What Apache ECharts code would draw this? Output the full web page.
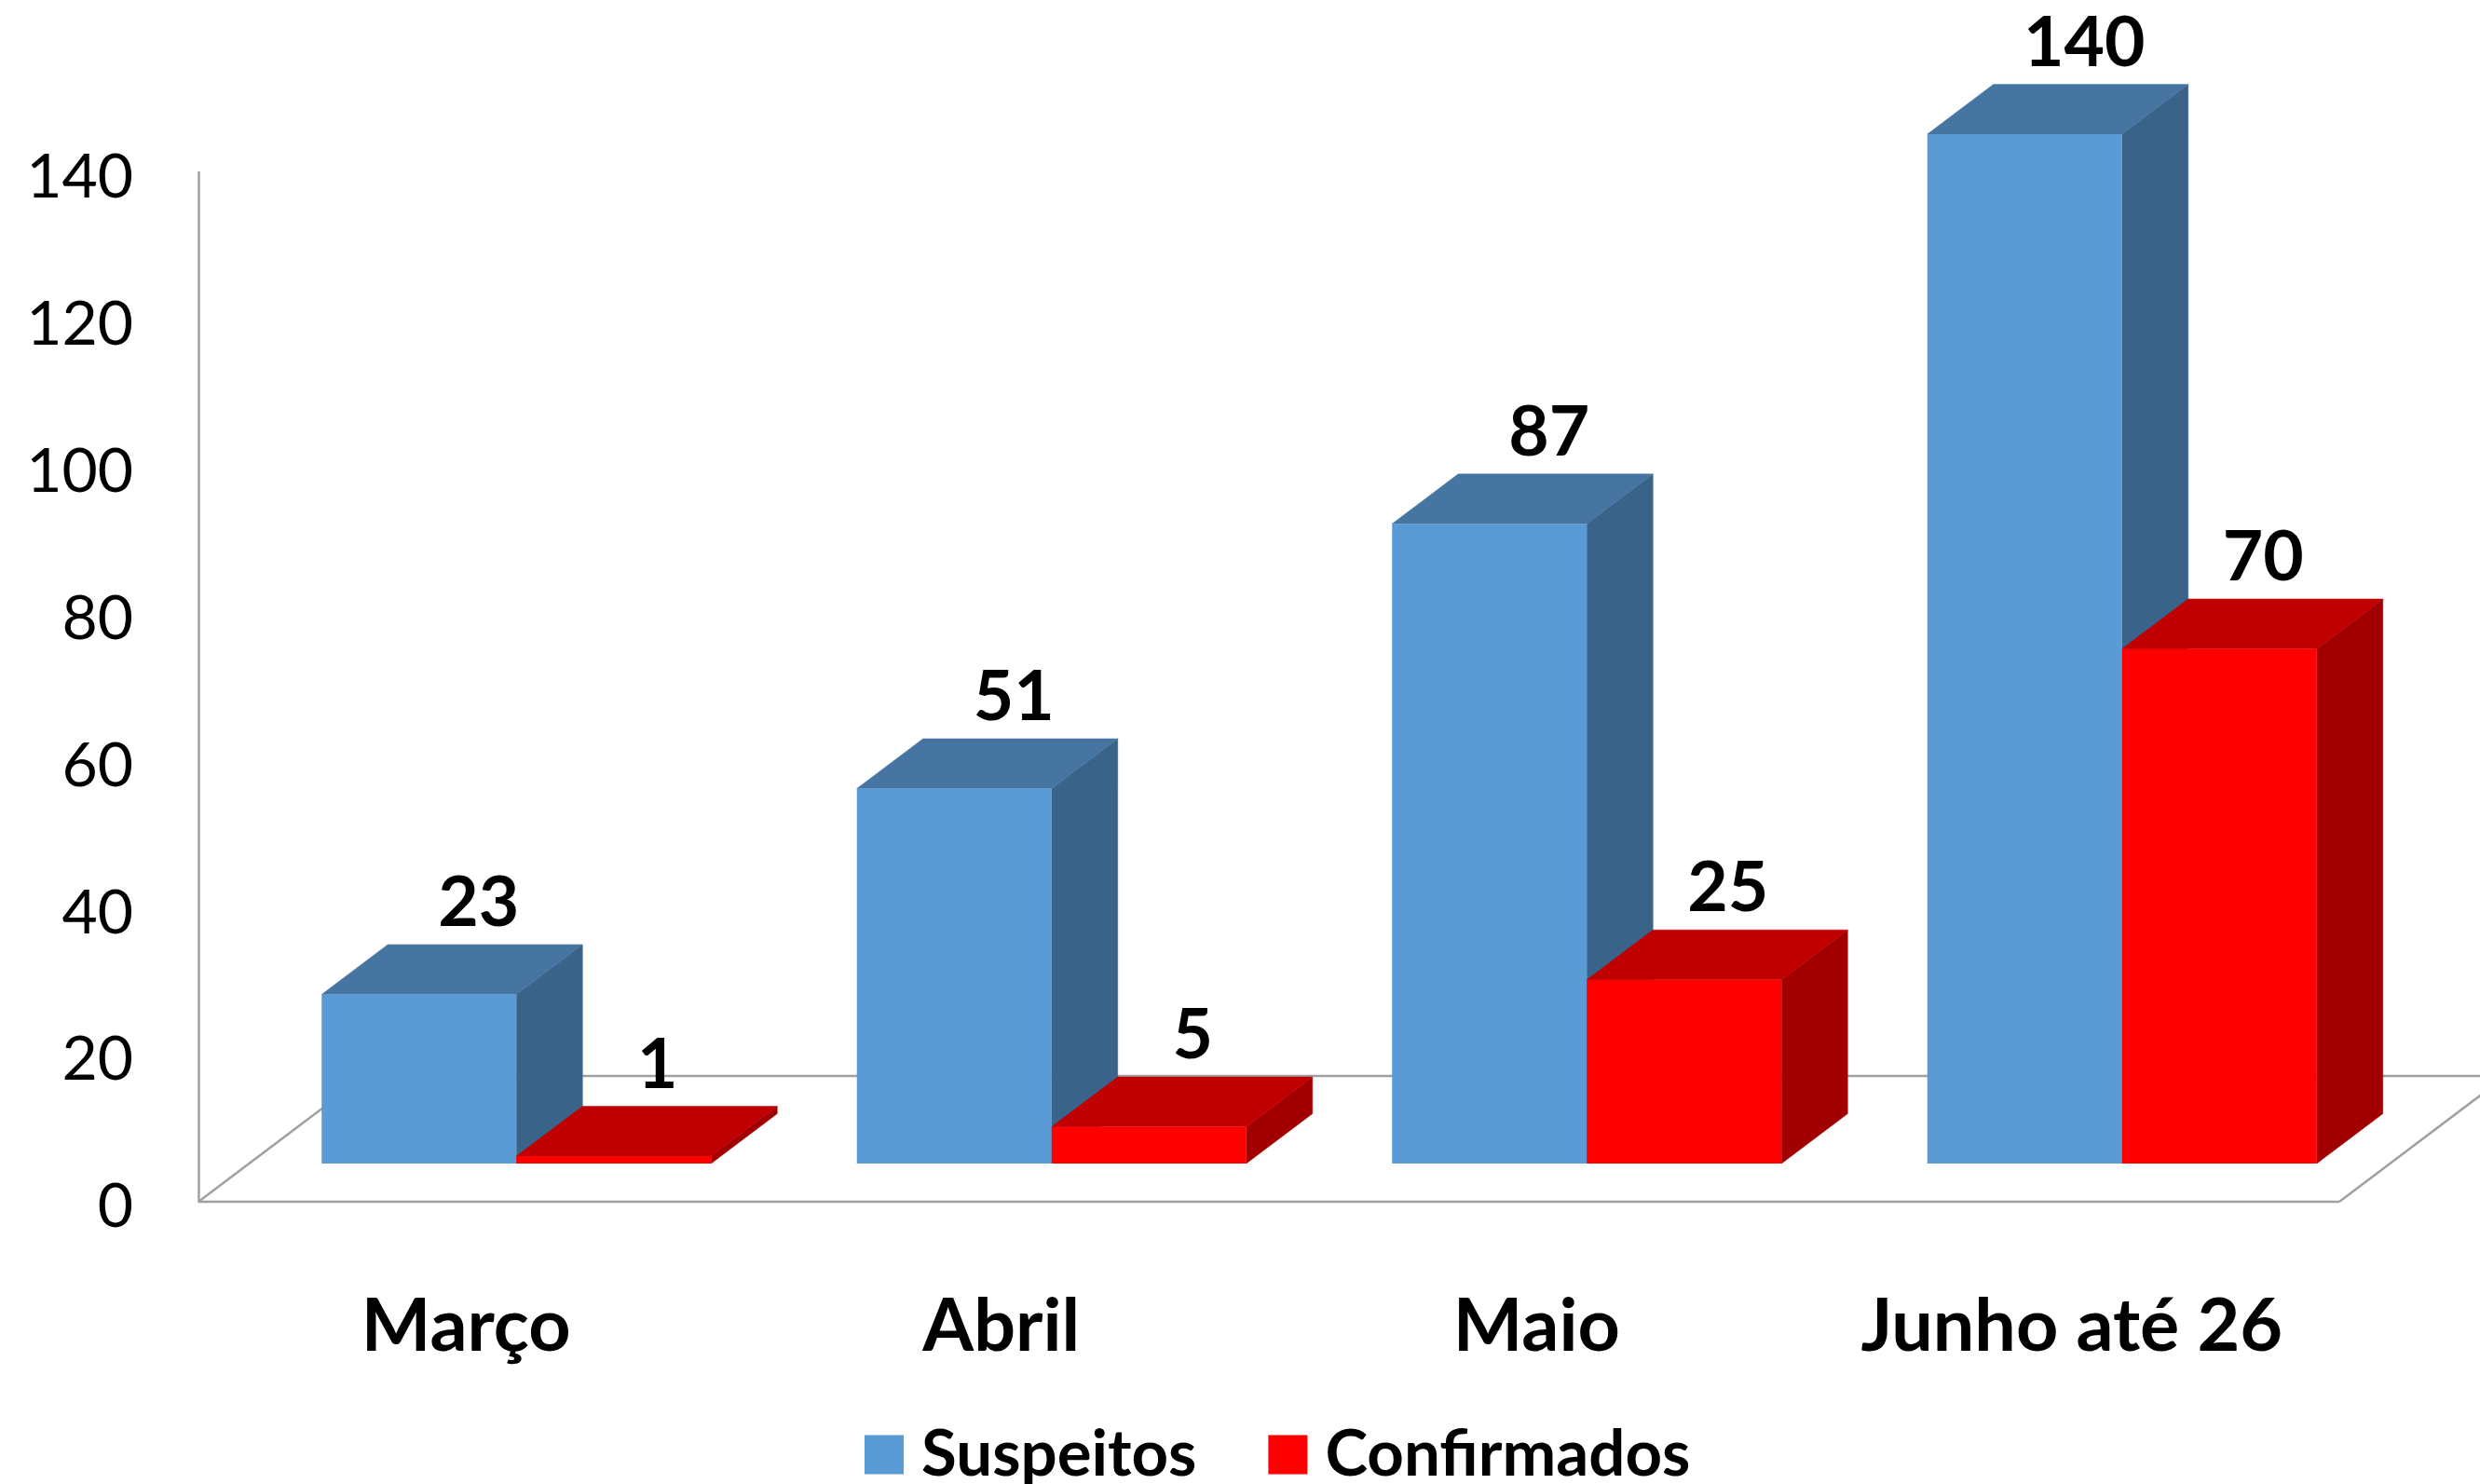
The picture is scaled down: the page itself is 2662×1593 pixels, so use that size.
<!DOCTYPE html>
<html><head><meta charset="utf-8">
<style>html,body{margin:0;padding:0;background:#fff;overflow:hidden}#c{width:2662px;height:1593px}</style>
<script src="https://cdn.jsdelivr.net/npm/echarts@6/dist/echarts.min.js"></script>
</head><body><div id="c"></div>
<script>
const categories = ['Março', 'Abril', 'Maio', 'Junho até 26'];
const suspeitos = [23, 51, 87, 140];
const confirmados = [1, 5, 25, 70];

const FONT = 'Lato, "Noto Sans", sans-serif';
const GRID = {left: 213, top: 185, width: 2298, height: 1105};
const FLOOR_DX = 179, FLOOR_DY = 135;
const LIFT_X = 54, LIFT_Y = 41;
const DEPTH_X = 71, DEPTH_Y = 53.5;
const BAR_RATIO = 0.3638;
const LINE = '#a0a0a0';

function bar3d(side, colors, labelDx) {
  return function (params, api) {
    const i = api.value(0), v = api.value(1);
    const top = api.coord([i, v]), base = api.coord([i, 0]);
    const bw = api.size([1, 0])[0] * BAR_RATIO;
    const x0 = top[0] + LIFT_X + (side < 0 ? -bw : 0), x1 = x0 + bw;
    const yT = top[1] - LIFT_Y, yB = base[1] - LIFT_Y;
    const poly = (pts, fill) => ({type: 'polygon', shape: {points: pts}, style: {fill, stroke: fill, lineWidth: 0.5}});
    return {type: 'group', children: [
      poly([[x1, yT], [x1 + DEPTH_X, yT - DEPTH_Y], [x1 + DEPTH_X, yB - DEPTH_Y], [x1, yB]], colors.side),
      poly([[x0, yT], [x0 + DEPTH_X, yT - DEPTH_Y], [x1 + DEPTH_X, yT - DEPTH_Y], [x1, yT]], colors.top),
      {type: 'rect', shape: {x: x0, y: yT, width: bw, height: yB - yT}, style: {fill: colors.front}},
      {type: 'text', z2: 50, style: {text: String(v), x: (x0 + x1) / 2 + labelDx, y: yT - DEPTH_Y - 44,
        align: 'center', verticalAlign: 'middle', font: 'bold 75px ' + FONT, fill: '#000'}}
    ]};
  };
}

function floor(params, api) {
  const c = params.coordSys, L = c.x, R = c.x + c.width, B = c.y + c.height;
  const ln = (x1, y1, x2, y2) => ({type: 'line', shape: {x1, y1, x2, y2}, style: {stroke: LINE, lineWidth: 2.5}});
  return {type: 'group', children: [
    ln(L, B, R, B),
    ln(L, B, L + FLOOR_DX, B - FLOOR_DY),
    ln(R, B, R + FLOOR_DX, B - FLOOR_DY),
    ln(L + FLOOR_DX, B - FLOOR_DY, R + FLOOR_DX, B - FLOOR_DY)
  ]};
}

const chart = echarts.init(document.getElementById('c'), null, {renderer: 'canvas', width: 2662, height: 1593});
chart.setOption({
  animation: false,
  backgroundColor: '#fff',
  grid: GRID,
  legend: {
    left: 923, top: 1522, itemWidth: 42, itemHeight: 42, itemGap: 77, icon: 'rect',
    data: ['Suspeitos', 'Confirmados'],
    textStyle: {fontFamily: FONT, fontWeight: 'bold', fontSize: 69, color: '#000', padding: [0, 0, 0, 14]}
  },
  xAxis: {
    type: 'category', data: categories,
    axisLine: {show: false}, axisTick: {show: false}, splitLine: {show: false},
    axisLabel: {interval: 0, hideOverlap: false, margin: 95, fontFamily: FONT, fontWeight: 'bold', fontSize: 79, color: '#000'}
  },
  yAxis: {
    type: 'value', min: 0, max: 140, interval: 20,
    axisLine: {show: true, lineStyle: {color: LINE, width: 2.5}}, axisTick: {show: false}, splitLine: {show: false},
    axisLabel: {margin: 70, color: '#000', formatter: '{t|{value}}',
      rich: {t: {fontFamily: FONT, fontSize: 66, color: '#000', padding: [12, 0, 0, 0]}}}
  },
  series: [
    {type: 'custom', name: 'floor', silent: true, clip: false, z: 1, data: [[0, 0]], renderItem: floor},
    {type: 'custom', name: 'Suspeitos', clip: false, z: 2, itemStyle: {color: '#5b9bd5'},
     encode: {x: 0, y: 1}, data: suspeitos.map((v, i) => [i, v]),
     renderItem: bar3d(-1, {front: '#5b9bd5', top: '#4775a2', side: '#3a638a'}, 64)},
    {type: 'custom', name: 'Confirmados', clip: false, z: 3, itemStyle: {color: '#ff0000'},
     encode: {x: 0, y: 1}, data: confirmados.map((v, i) => [i, v]),
     renderItem: bar3d(1, {front: '#ff0000', top: '#c00000', side: '#a20000'}, 47)}
  ]
});
</script></body></html>
